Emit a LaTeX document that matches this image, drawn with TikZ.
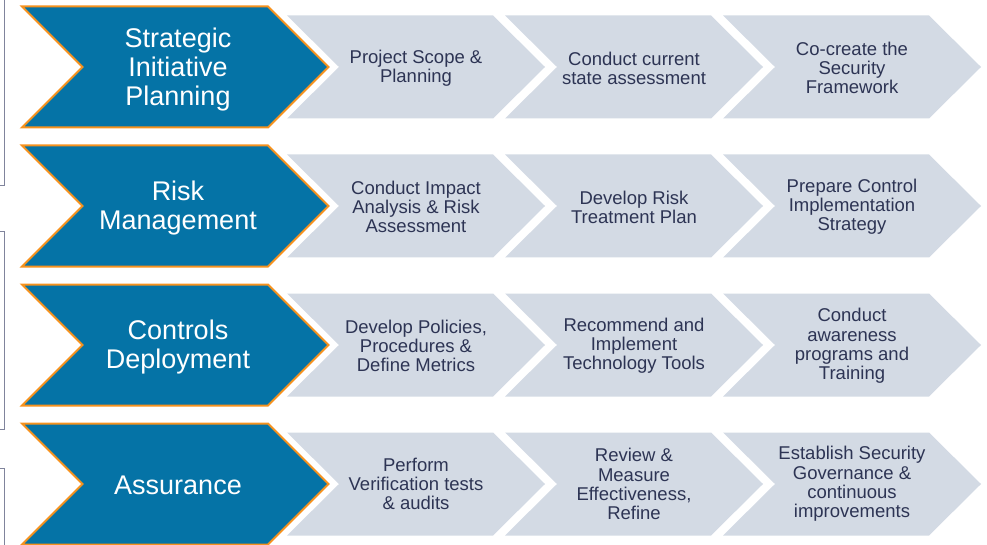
\documentclass[tikz,border=0pt]{standalone}
\usepackage{fontspec}
\setmainfont{Liberation Sans}
\usepackage{xcolor}
\usepackage{tikz}
\usetikzlibrary{positioning}
\definecolor{phaseblue}{RGB}{5,115,166}
\definecolor{phaseorange}{RGB}{246,146,30}
\definecolor{taskgrey}{RGB}{211,218,228}
\definecolor{taskink}{RGB}{45,52,84}
\definecolor{framegrey}{RGB}{128,132,156}
\tikzset{phasebox/.style={fill=phaseblue, draw=phaseorange, line width=2pt, line join=miter}}
\tikzset{taskbox/.style={fill=taskgrey}}
\tikzset{phasetext/.style={text=white, align=center, font=\fontsize{27}{29}\selectfont}}
\tikzset{tasktext/.style={text=taskink, align=center, font=\fontsize{18.5}{19.2}\selectfont}}
\begin{document}
\begin{tikzpicture}[x=1pt,y=-1pt]
	\tikzstyle{every node}+=[inner sep=0pt]
	\useasboundingbox (0,0) rectangle (987,545);
	% brackets on the left edge
	\draw [framegrey, line width=1pt] (0,186) -- (4,186) -- (4,0);
	\draw [framegrey, line width=1pt] (0,232) -- (4,232) -- (4,429) -- (0,429);
	\draw [framegrey, line width=1pt] (0,468) -- (4,468) -- (4,545);
	% grey task chevrons
	\fill [taskbox] (287,15.5) -- (493,15.5) -- (545,67) -- (493,118.5) -- (287,118.5) -- (339,67) -- cycle;
	\fill [taskbox] (505,15.5) -- (711,15.5) -- (763,67) -- (711,118.5) -- (505,118.5) -- (557,67) -- cycle;
	\fill [taskbox] (723,15.5) -- (929,15.5) -- (981,67) -- (929,118.5) -- (723,118.5) -- (775,67) -- cycle;
	\fill [taskbox] (287,154.5) -- (493,154.5) -- (545,206) -- (493,257.5) -- (287,257.5) -- (339,206) -- cycle;
	\fill [taskbox] (505,154.5) -- (711,154.5) -- (763,206) -- (711,257.5) -- (505,257.5) -- (557,206) -- cycle;
	\fill [taskbox] (723,154.5) -- (929,154.5) -- (981,206) -- (929,257.5) -- (723,257.5) -- (775,206) -- cycle;
	\fill [taskbox] (287,293.5) -- (493,293.5) -- (545,345) -- (493,396.5) -- (287,396.5) -- (339,345) -- cycle;
	\fill [taskbox] (505,293.5) -- (711,293.5) -- (763,345) -- (711,396.5) -- (505,396.5) -- (557,345) -- cycle;
	\fill [taskbox] (723,293.5) -- (929,293.5) -- (981,345) -- (929,396.5) -- (723,396.5) -- (775,345) -- cycle;
	\fill [taskbox] (287,432.5) -- (493,432.5) -- (545,484) -- (493,535.5) -- (287,535.5) -- (339,484) -- cycle;
	\fill [taskbox] (505,432.5) -- (711,432.5) -- (763,484) -- (711,535.5) -- (505,535.5) -- (557,484) -- cycle;
	\fill [taskbox] (723,432.5) -- (929,432.5) -- (981,484) -- (929,535.5) -- (723,535.5) -- (775,484) -- cycle;
	% blue phase chevrons
	\draw [phasebox] (22,6.5) -- (268,6.5) -- (328.5,67) -- (268,127.5) -- (22,127.5) -- (82.5,67) -- cycle;
	\draw [phasebox] (22,145.5) -- (268,145.5) -- (328.5,206) -- (268,266.5) -- (22,266.5) -- (82.5,206) -- cycle;
	\draw [phasebox] (22,284.5) -- (268,284.5) -- (328.5,345) -- (268,405.5) -- (22,405.5) -- (82.5,345) -- cycle;
	\draw [phasebox] (22,423.5) -- (268,423.5) -- (328.5,484) -- (268,544.5) -- (22,544.5) -- (82.5,484) -- cycle;
	% phase labels
	\draw (178,70) node[phasetext] (planning) {Strategic\\Initiative\\Planning};
	\draw (178,208) node[phasetext] (risk) {Risk\\Management};
	\draw (178,347) node[phasetext] (controls) {Controls\\Deployment};
	\draw (178,485) node[phasetext] (assurance) {Assurance};
	% task labels
	\draw (416,68) node[tasktext] (scope) {Project Scope \&\\Planning};
	\draw (634,68) node[tasktext] (current) {Conduct current\\state assessment};
	\draw (852,68) node[tasktext] (framework) {Co-create the\\Security\\Framework};
	\draw (416,207) node[tasktext] (impact) {Conduct Impact\\Analysis \& Risk\\Assessment};
	\draw (634,207) node[tasktext] (treatment) {Develop Risk\\Treatment Plan};
	\draw (852,207) node[tasktext] (strategy) {Prepare Control\\Implementation\\Strategy};
	\draw (416,346) node[tasktext] (policies) {Develop Policies,\\Procedures \&\\Define Metrics};
	\draw (634,346) node[tasktext] (tools) {Recommend and\\Implement\\Technology Tools};
	\draw (852,346) node[tasktext] (awareness) {Conduct\\awareness\\programs and\\Training};
	\draw (416,484) node[tasktext] (audits) {Perform\\Verification tests\\\& audits};
	\draw (634,484) node[tasktext] (refine) {Review \&\\Measure\\Effectiveness,\\Refine};
	\draw (852,484) node[tasktext] (governance) {Establish Security\\Governance \&\\continuous\\improvements};
\end{tikzpicture}
\end{document}
